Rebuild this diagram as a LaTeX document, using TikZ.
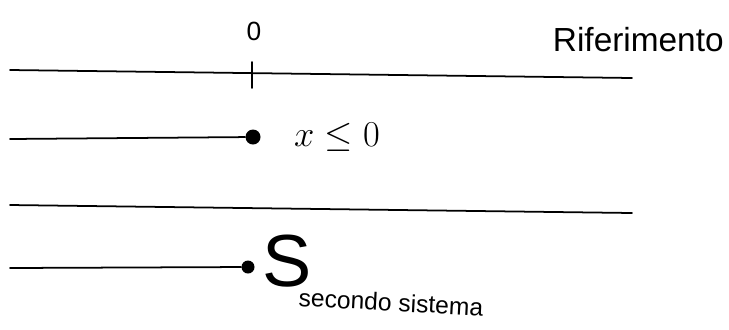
\documentclass[tikz,border=0pt]{standalone}
\usepackage{fontspec}
\setsansfont{Liberation Sans}
\usetikzlibrary{positioning}
\tikzset{
  axis/.style={line width=1pt,draw=black,line cap=round},
  dot/.style={circle,fill=black,inner sep=0pt,minimum size=0.3cm},
  note/.style={font=\sffamily\fontsize{15}{17}\selectfont,text=black,inner sep=0pt},
  bigletter/.style={font=\sffamily\fontsize{42}{46}\selectfont,text=black,inner sep=0pt}
}
\begin{document}
\begin{tikzpicture}[x=0.02cm,y=-0.02cm]
  \useasboundingbox (0,0) rectangle (729,329);
  % reference line with origin tick
  \coordinate (refL) at (10,70);
  \coordinate (refR) at (632,78);
  \draw[axis] (refL) -- (refR);
  \coordinate (zeroT) at (252,62);
  \coordinate (zeroB) at (252,88);
  \draw[axis] (zeroT) -- (zeroB);
  \node[note] (zero) at (254,31) {0};
  \node[note,font=\sffamily\fontsize{19}{22}\selectfont,anchor=east] (rif) at (724,40) {Riferimento};
  % half line x <= 0
  \coordinate (halfL) at (10,139);
  \node[dot] (halfEnd) at (253,137) {};
  \draw[axis] (halfL) -- (halfEnd);
  \node[note,font=\fontsize{22}{26}\selectfont] (cond) at (337,137) {$x \leq 0$};
  % second full line
  \coordinate (lineL) at (10,205);
  \coordinate (lineR) at (632,213);
  \draw[axis] (lineL) -- (lineR);
  % second system
  \coordinate (sysL) at (10,268);
  \node[dot,minimum size=0.26cm] (sysEnd) at (248,267) {};
  \draw[axis] (sysL) -- (sysEnd);
  \node[bigletter] (S) at (287,261) {S};
  \node[note,font=\sffamily\fontsize{14}{16}\selectfont,anchor=north west,rotate=-3] (sub) at (299,288) {secondo sistema};
\end{tikzpicture}
\end{document}
